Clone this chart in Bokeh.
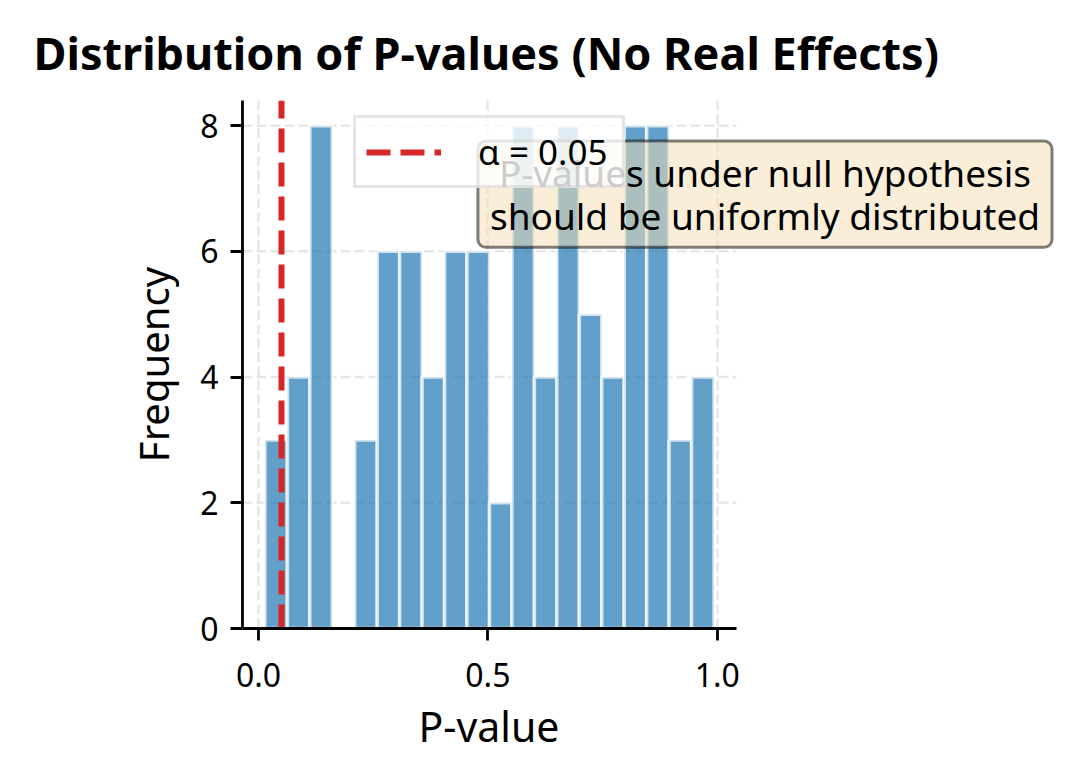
import numpy as np
from bokeh.plotting import figure
from bokeh.models import (Range1d, FixedTicker, Label, Legend, LegendItem,
                          ColumnDataSource, Title)
from bokeh.embed import file_html
from bokeh.resources import INLINE

# ---- data ----
p_min = 0.014          # smallest p-value (left edge of first bin)
p_max = 0.993          # largest p-value (right edge of last bin)
n_bins = 20
counts = [3, 4, 8, 0, 3, 6, 6, 4, 6, 6, 2, 8, 4, 8, 5, 4, 8, 8, 3, 4]
alpha_level = 0.05
x_ticks = [0.0, 0.5, 1.0]
x_tick_labels = ["0.0", "0.5", "1.0"]
y_ticks = [0, 2, 4, 6, 8]
title_text = "Distribution of P-values (No Real Effects)"
x_label = "P-value"
y_label = "Frequency"
legend_text = "α = 0.05"
note_text = "P-values under null hypothesis\nshould be uniformly distributed"

FONT = "Noto Sans"

edges = np.linspace(p_min, p_max, n_bins + 1)
src = ColumnDataSource(dict(left=edges[:-1], right=edges[1:],
                            top=counts, bottom=[0] * len(counts)))

span = p_max - p_min
ax_lo = p_min - 0.05 * span
ax_hi = p_max + 0.05 * span
axes_px = 494                       # visible axes width in pixels
frame_px = 1056 - 242               # drawing frame (extends right for the note box)
x_end = ax_lo + (ax_hi - ax_lo) * frame_px / axes_px
xr = Range1d(ax_lo, x_end)
ymax = max(counts) * 1.05
yr = Range1d(0, ymax)

p = figure(width=1056, height=768, x_range=xr, y_range=yr,
           output_backend="svg", toolbar_location=None,
           min_border_left=242, min_border_right=0,
           min_border_top=100, min_border_bottom=140)
p.outline_line_color = None
p.background_fill_color = "white"
p.border_fill_color = "white"

# title
p.title.text = title_text
p.title.text_font = FONT
p.title.text_font_size = "45px"
p.title.text_font_style = "bold"
p.title.text_color = "black"
p.title.align = "left"
p.title.offset = -209
p.title.standoff = 35

# horizontal grid lines (limited to the axes width)
p.ygrid.visible = False
p.segment(x0=[ax_lo] * len(y_ticks), x1=[ax_hi] * len(y_ticks), y0=y_ticks, y1=y_ticks,
          line_color="#b0b0b0", line_alpha=0.3, line_width=2.5, line_dash="10 4",
          level="underlay")

# bars
p.quad(left="left", right="right", top="top", bottom="bottom", source=src,
       fill_color="#1f77b4", fill_alpha=0.7,
       line_color="white", line_alpha=0.7, line_width=3.5)

# alpha line
vline = p.segment(x0=[alpha_level], y0=[0], x1=[alpha_level], y1=[ymax],
                  line_color="#d62728", line_width=6, line_dash="24 10")

# annotation box
note = Label(x=1.104, y=6.91, text=note_text,
             text_align="center", text_baseline="middle",
             text_font=FONT, text_font_size="37px", text_color="black",
             text_line_height=0.85,
             background_fill_color="wheat", background_fill_alpha=0.5,
             border_line_color="black", border_line_alpha=0.5,
             border_line_width=3, padding=(12, 6), border_radius=8)
p.add_layout(note)

# legend
leg = Legend(items=[LegendItem(label=legend_text, renderers=[vline])],
             location=(111, 440),
             label_text_font=FONT, label_text_font_size="35px",
             label_text_color="black",
             glyph_width=75, glyph_height=30, label_standoff=37,
             label_width=134,
             padding=10, margin=0,
             border_line_color="#cccccc", border_line_width=3,
             background_fill_color="white", background_fill_alpha=0.8)
p.add_layout(leg)

# axes
for ax in (p.xaxis, p.yaxis):
    ax.axis_line_width = 2.8
    ax.major_tick_line_width = 2.8
    ax.major_tick_out = 12
    ax.major_tick_in = 0
    ax.minor_tick_line_color = None
    ax.major_label_text_font = FONT
    ax.major_label_text_font_size = "32px"
    ax.axis_label_text_font = FONT
    ax.axis_label_text_font_size = "40px"
    ax.axis_label_text_font_style = "normal"
    ax.major_label_text_color = "black"
    ax.axis_label_text_color = "black"

p.xaxis.bounds = (ax_lo, ax_hi)
p.xaxis.ticker = FixedTicker(ticks=x_ticks)
p.xaxis.major_label_overrides = {t: l for t, l in zip(x_ticks, x_tick_labels)}
p.yaxis.ticker = FixedTicker(ticks=y_ticks)
p.yaxis.axis_label = y_label
p.xaxis.major_label_standoff = 22
p.yaxis.major_label_standoff = 12
p.yaxis.axis_label_standoff = 16

# x-axis label, centred under the visible axes width
xlab = Title(text=x_label, text_font=FONT, text_font_size="41px",
             text_font_style="normal", text_color="black",
             align="left", offset=176, standoff=13)
p.add_layout(xlab, "below")

p.xgrid.ticker = FixedTicker(ticks=x_ticks)
p.xgrid.grid_line_color = "#b0b0b0"
p.xgrid.grid_line_alpha = 0.3
p.xgrid.grid_line_width = 2.5
p.xgrid.grid_line_dash = "10 4"

open("out.html", "w").write(file_html(p, INLINE))
